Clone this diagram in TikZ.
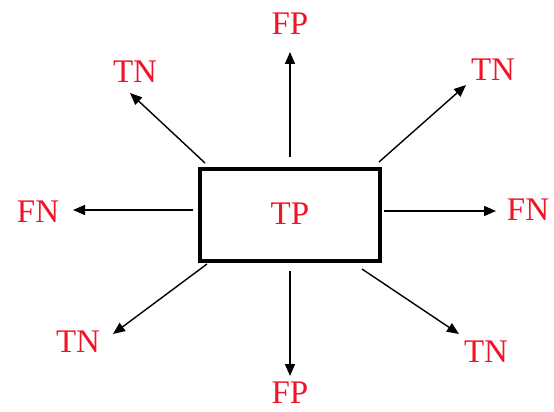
\documentclass[tikz,border=0pt]{standalone}
\usepackage{fontspec}
\setmainfont{Liberation Serif}
\usetikzlibrary{arrows.meta}
\definecolor{lblred}{RGB}{240,20,40}
\begin{document}
\begin{tikzpicture}[x=1pt,y=-1pt,
  lbl/.style={text=lblred,font=\fontsize{33}{33}\selectfont,inner sep=0pt,anchor=center},
  arr/.style={line width=1.4pt,-{Triangle[length=12pt,width=10pt]}}]
\useasboundingbox (0,0) rectangle (554,412);
\node[draw,line width=4.5pt,minimum width=180pt,minimum height=92pt,inner sep=0pt] (tp) at (290,215) {};
\node[lbl] (tpl) at (290,214) {TP};
% labels
\node[lbl] (fpt) at (290,24) {FP};
\node[lbl] (fpb) at (290,393) {FP};
\node[lbl] (fnl) at (38,212) {FN};
\node[lbl] (fnr) at (528,210) {FN};
\node[lbl] (tnul) at (135,72) {TN};
\node[lbl] (tnur) at (493,70) {TN};
\node[lbl] (tnll) at (78,342) {TN};
\node[lbl] (tnlr) at (486,352) {TN};
% arrow ends
\coordinate (s1) at (290,157); \coordinate (e1) at (290,52);
\coordinate (s2) at (290,271); \coordinate (e2) at (290,376);
\coordinate (s3) at (193,210); \coordinate (e3) at (73,210);
\coordinate (s4) at (384,211); \coordinate (e4) at (496,211);
\coordinate (s5) at (205,163); \coordinate (e5) at (130,93);
\coordinate (s6) at (379,162); \coordinate (e6) at (466,85);
\coordinate (s7) at (207,264); \coordinate (e7) at (113,334);
\coordinate (s8) at (362,269); \coordinate (e8) at (459,334);
\foreach \i in {1,...,8} {\draw[arr] (s\i) -- (e\i);}
\end{tikzpicture}
\end{document}
